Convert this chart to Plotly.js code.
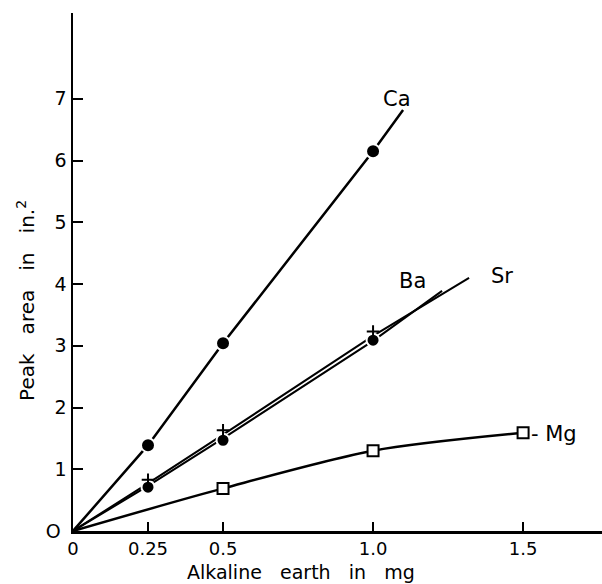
<!DOCTYPE html>
<html>
<head>
<meta charset="utf-8">
<script src="https://cdn.plot.ly/plotly-3.0.1.min.js"></script>
<style>html,body{margin:0;padding:0;background:#fff;}#chart{width:602px;height:584px;}</style>
</head>
<body>
<div id="chart"></div>
<script>
// Calcium
const caLineX = [0, 0.25, 0.5, 1.0, 1.1];
const caLineY = [0, 1.39, 3.04, 6.15, 6.82];
const caPtsX = [0.25, 0.5, 1.0];
const caPtsY = [1.39, 3.04, 6.15];
// Barium
const baLineX = [0, 0.25, 0.5, 1.0, 1.23];
const baLineY = [0, 0.73, 1.5, 3.08, 3.89];
const baPtsX = [0.25, 0.5, 1.0];
const baPtsY = [0.71, 1.47, 3.09];
// Strontium
const srLineX = [0, 0.25, 0.5, 1.0, 1.32];
const srLineY = [0, 0.77, 1.56, 3.16, 4.1];
const srPtsX = [0.25, 0.5, 1.0];
const srPtsY = [0.83, 1.63, 3.23];
// Magnesium
const mgLineX = [0, 0.5, 1.0, 1.5];
const mgLineY = [0, 0.69, 1.3, 1.59];
const mgPtsX = [0.5, 1.0, 1.5];
const mgPtsY = [0.69, 1.3, 1.59];

const xTickVals = [0, 0.25, 0.5, 1.0, 1.5];
const xTickText = ['0', '0.25', '0.5', '1.0', '1.5'];
const yTickVals = [0, 1, 2, 3, 4, 5, 6, 7];
const yTickText = ['O\u00a0', '1', '2', '3', '4', '5', '6', '7'];

const FONT = '"DejaVu Sans", Lato, sans-serif';
const SP = '\u00a0\u00a0\u00a0';

const traces = [
  {x: caLineX, y: caLineY, mode: 'lines', line: {color: '#000', width: 2.5}, hoverinfo: 'skip'},
  {x: srLineX, y: srLineY, mode: 'lines', line: {color: '#000', width: 2}, hoverinfo: 'skip'},
  {x: baLineX, y: baLineY, mode: 'lines', line: {color: '#000', width: 2}, hoverinfo: 'skip'},
  {x: mgLineX, y: mgLineY, mode: 'lines', line: {color: '#000', width: 2.5, shape: 'spline', smoothing: 0.8}, hoverinfo: 'skip'},
  {x: caPtsX, y: caPtsY, mode: 'markers', marker: {symbol: 'circle', size: 14, color: '#000', line: {color: '#fff', width: 2}}},
  {x: baPtsX, y: baPtsY, mode: 'markers', marker: {symbol: 'circle', size: 13, color: '#000', line: {color: '#fff', width: 2}}},
  {x: srPtsX, y: srPtsY, mode: 'markers', marker: {symbol: 'cross-thin', size: 9, color: '#000', line: {color: '#000', width: 2}}},
  {x: mgPtsX, y: mgPtsY, mode: 'markers', marker: {symbol: 'square', size: 11, color: '#fff', line: {color: '#000', width: 2}}}
];

const layout = {
  width: 602, height: 584,
  margin: {l: 73, r: 0, t: 13, b: 53, pad: 0},
  paper_bgcolor: '#fff', plot_bgcolor: '#fff',
  showlegend: false,
  font: {family: FONT, color: '#000', size: 18},
  xaxis: {
    range: [0, 1.763], showgrid: false, zeroline: false,
    showline: true, linecolor: '#000', linewidth: 2.5,
    ticks: 'inside', ticklen: 9, tickwidth: 2, tickcolor: '#000',
    tickvals: xTickVals, ticktext: xTickText,
    tickfont: {family: FONT, size: 18, color: '#000'},
    fixedrange: true
  },
  yaxis: {
    range: [0, 8.39], showgrid: false, zeroline: false,
    showline: true, linecolor: '#000', linewidth: 2.5,
    ticks: 'inside', ticklen: 10, tickwidth: 2, tickcolor: '#000',
    tickvals: yTickVals, ticktext: yTickText,
    tickfont: {family: FONT, size: 19, color: '#000'},
    fixedrange: true
  },
  annotations: [
    {xref: 'paper', yref: 'paper', x: 0.431, y: -0.1015, text: 'Alkaline' + SP + 'earth' + SP + 'in' + SP + 'mg',
     showarrow: false, xanchor: 'center', yanchor: 'bottom', borderpad: 0, font: {size: 19}},
    {xref: 'paper', yref: 'paper', x: -0.088, y: 0.445, text: 'Peak' + SP + 'area' + SP + 'in' + SP + 'in.<sup>2</sup>',
     textangle: -90, showarrow: false, xanchor: 'center', yanchor: 'middle', font: {size: 20}},
    {x: 1.08, y: 7.0, text: 'Ca', showarrow: false, xanchor: 'center', yanchor: 'middle', font: {size: 21}},
    {x: 1.133, y: 4.05, text: 'Ba', showarrow: false, xanchor: 'center', yanchor: 'middle', font: {size: 21}},
    {x: 1.43, y: 4.13, text: 'Sr', showarrow: false, xanchor: 'center', yanchor: 'middle', font: {size: 21}},
    {x: 1.52, y: 1.57, text: '- Mg', showarrow: false, xanchor: 'left', yanchor: 'middle', font: {size: 21}}
  ]
};

Plotly.newPlot('chart', traces, layout, {displayModeBar: false, staticPlot: true});
</script>
</body>
</html>
